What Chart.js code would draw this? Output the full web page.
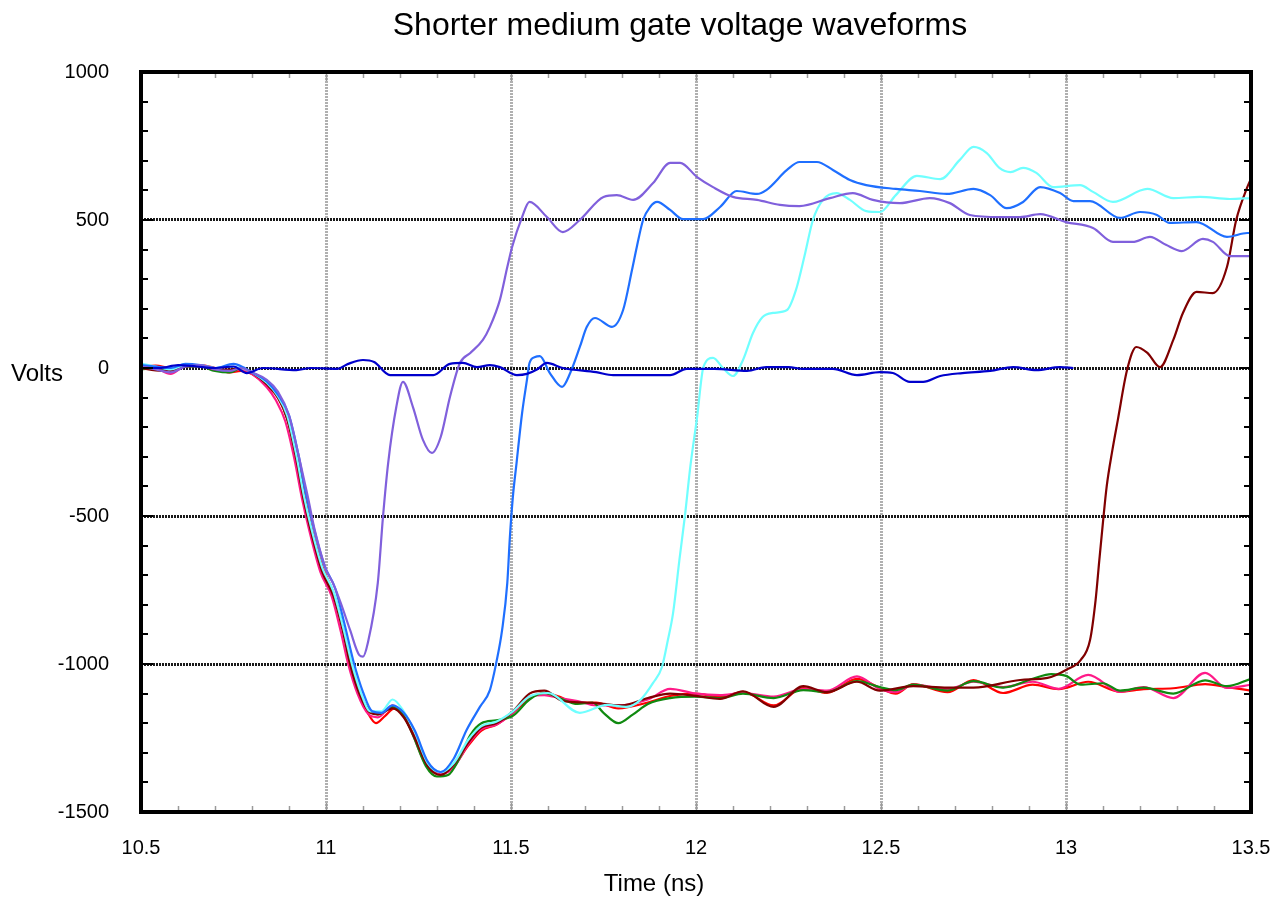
<!DOCTYPE html>
<html><head><meta charset="utf-8">
<script src="https://cdn.jsdelivr.net/npm/chart.js@4.4.0/dist/chart.umd.min.js"></script>
<style>html,body{margin:0;padding:0;background:#fff}#wrap{width:1279px;height:900px;position:relative}</style>
</head><body><div id="wrap"><canvas id="c"></canvas></div>
<script>
const chartTitle = 'Shorter medium gate voltage waveforms';
const xTitle = 'Time (ns)';
const yTitle = 'Volts';
const xTicks = [10.5, 11, 11.5, 12, 12.5, 13, 13.5];
const xTickLabels = ['10.5', '11', '11.5', '12', '12.5', '13', '13.5'];
const yTicks = [-1500, -1000, -500, 0, 500, 1000];
const yTickLabels = ['-1500', '-1000', '-500', '0', '500', '1000'];

// [time (ns), volts]
const darkBlue = [[10.5,0],[10.55,0],[10.6,10],[10.65,5],[10.7,0],[10.75,5],[10.786,-17],[10.83,0],[10.92,-7],[10.96,0],[11.03,-3],[11.06,14],[11.1,27],[11.13,20],[11.173,-24],[11.22,-24],[11.29,-24],[11.335,14],[11.37,17],[11.408,3],[11.443,10],[11.47,3],[11.516,-24],[11.543,-20],[11.57,-5],[11.597,17],[11.64,0],[11.73,-14],[11.776,-24],[11.868,-24],[11.93,-24],[11.975,-3],[12.05,-3],[12.138,-10],[12.19,3],[12.25,3],[12.29,-3],[12.37,-3],[12.435,-24],[12.497,-14],[12.532,-17],[12.578,-47],[12.614,-47],[12.66,-27],[12.72,-17],[12.795,-10],[12.857,3],[12.92,-7],[12.984,3],[13.02,0]];

const purple = [[10.5,5],[10.54,-5],[10.58,-15],[10.62,5],[10.66,10],[10.7,-5],[10.74,-10],[10.77,0],[10.8,-15],[10.84,-40],[10.87,-80],[10.9,-160],[10.925,-290],[10.95,-430],[10.97,-550],[11.0,-680],[11.02,-730],[11.04,-794],[11.065,-885],[11.09,-970],[11.1,-975],[11.113,-929],[11.14,-726],[11.154,-503],[11.168,-321],[11.19,-132],[11.208,-47],[11.235,-132],[11.262,-243],[11.286,-287],[11.31,-233],[11.335,-98],[11.362,17],[11.39,51],[11.424,95],[11.443,139],[11.47,230],[11.49,341],[11.503,409],[11.53,510],[11.55,561],[11.597,510],[11.64,459],[11.686,500],[11.75,578],[11.786,584],[11.83,568],[11.884,625],[11.93,693],[11.957,693],[12.003,645],[12.046,611],[12.1,578],[12.165,568],[12.227,551],[12.28,547],[12.362,574],[12.424,591],[12.478,568],[12.551,557],[12.632,574],[12.686,557],[12.74,517],[12.82,510],[12.876,510],[12.93,520],[13.0,493],[13.073,473],[13.127,426],[13.18,426],[13.227,443],[13.27,416],[13.313,395],[13.37,436],[13.397,426],[13.443,378],[13.5,378]];

const blue = [[10.5,10],[10.54,5],[10.58,0],[10.62,14],[10.66,10],[10.7,0],[10.75,14],[10.78,0],[10.8,-15],[10.84,-45],[10.87,-90],[10.9,-160],[10.925,-290],[10.945,-420],[10.965,-530],[10.995,-665],[11.025,-745],[11.05,-865],[11.075,-995],[11.1,-1095],[11.125,-1160],[11.15,-1165],[11.18,-1140],[11.21,-1165],[11.24,-1225],[11.275,-1330],[11.31,-1365],[11.345,-1320],[11.38,-1223],[11.416,-1145],[11.443,-1088],[11.46,-997],[11.476,-885],[11.49,-726],[11.497,-571],[11.505,-436],[11.515,-321],[11.53,-152],[11.543,-41],[11.55,17],[11.565,37],[11.578,40],[11.605,-17],[11.638,-64],[11.66,-17],[11.686,71],[11.705,139],[11.727,169],[11.773,139],[11.803,196],[11.827,331],[11.84,409],[11.857,500],[11.876,544],[11.895,561],[11.93,534],[11.965,503],[12.019,503],[12.065,544],[12.11,598],[12.165,588],[12.19,601],[12.246,669],[12.28,696],[12.327,696],[12.37,669],[12.416,635],[12.46,618],[12.54,605],[12.605,598],[12.678,588],[12.75,605],[12.795,584],[12.84,540],[12.884,561],[12.93,611],[12.984,591],[13.02,564],[13.065,564],[13.146,507],[13.2,527],[13.246,517],[13.28,490],[13.353,493],[13.435,443],[13.49,456],[13.5,456]];

const cyan = [[10.5,15],[10.54,5],[10.58,-5],[10.62,10],[10.66,10],[10.7,0],[10.74,5],[10.77,0],[10.8,-15],[10.84,-50],[10.87,-95],[10.895,-160],[10.92,-295],[10.94,-430],[10.96,-540],[10.99,-675],[11.02,-755],[11.046,-875],[11.07,-1000],[11.095,-1100],[11.12,-1160],[11.15,-1160],[11.18,-1120],[11.21,-1160],[11.24,-1230],[11.275,-1335],[11.31,-1365],[11.345,-1335],[11.385,-1255],[11.42,-1210],[11.46,-1195],[11.505,-1160],[11.55,-1110],[11.6,-1098],[11.686,-1165],[11.76,-1138],[11.81,-1145],[11.85,-1121],[11.884,-1064],[11.908,-1010],[11.924,-919],[11.938,-828],[11.955,-650],[11.97,-500],[11.985,-330],[12.003,-166],[12.02,3],[12.046,34],[12.073,0],[12.1,-27],[12.127,27],[12.154,118],[12.18,172],[12.208,186],[12.246,196],[12.27,263],[12.295,388],[12.316,500],[12.343,568],[12.38,591],[12.416,568],[12.46,530],[12.497,527],[12.54,584],[12.597,649],[12.66,638],[12.713,703],[12.75,747],[12.786,726],[12.82,676],[12.85,662],[12.884,676],[12.92,659],[12.965,611],[13.038,618],[13.073,595],[13.127,561],[13.22,605],[13.29,574],[13.362,578],[13.443,571],[13.5,574]];

const maroon = [[10.5,0],[10.54,-8],[10.58,-10],[10.62,10],[10.66,8],[10.7,-5],[10.74,-5],[10.77,0],[10.8,-15],[10.84,-55],[10.87,-100],[10.895,-170],[10.92,-310],[10.94,-445],[10.96,-555],[10.99,-690],[11.02,-770],[11.046,-890],[11.065,-1000],[11.09,-1100],[11.12,-1165],[11.14,-1170],[11.18,-1150],[11.21,-1180],[11.24,-1250],[11.275,-1345],[11.31,-1375],[11.345,-1340],[11.385,-1265],[11.42,-1215],[11.46,-1200],[11.505,-1160],[11.55,-1100],[11.59,-1090],[11.64,-1125],[11.7,-1130],[11.75,-1135],[11.8,-1140],[11.87,-1115],[11.93,-1100],[12.0,-1108],[12.065,-1118],[12.127,-1092],[12.21,-1145],[12.29,-1075],[12.354,-1095],[12.435,-1060],[12.497,-1090],[12.587,-1075],[12.68,-1080],[12.75,-1080],[12.876,-1054],[12.95,-1047],[13.0,-1020],[13.04,-986],[13.065,-919],[13.08,-784],[13.09,-650],[13.1,-520],[13.11,-400],[13.125,-280],[13.14,-176],[13.165,-7],[13.19,71],[13.22,51],[13.254,3],[13.29,95],[13.316,186],[13.353,257],[13.397,253],[13.435,341],[13.46,500],[13.49,611],[13.5,640]];

const green = [[10.5,-5],[10.54,0],[10.58,-5],[10.62,5],[10.66,5],[10.7,-10],[10.74,-15],[10.77,0],[10.8,-15],[10.84,-50],[10.87,-95],[10.895,-170],[10.92,-300],[10.94,-440],[10.96,-550],[10.99,-680],[11.02,-760],[11.046,-880],[11.065,-995],[11.09,-1095],[11.12,-1160],[11.14,-1170],[11.18,-1145],[11.21,-1175],[11.235,-1240],[11.27,-1345],[11.3,-1380],[11.33,-1375],[11.36,-1320],[11.39,-1240],[11.42,-1200],[11.46,-1190],[11.505,-1175],[11.55,-1120],[11.59,-1098],[11.63,-1115],[11.68,-1135],[11.72,-1130],[11.75,-1165],[11.79,-1200],[11.83,-1170],[11.87,-1135],[11.93,-1115],[12.0,-1110],[12.065,-1115],[12.127,-1100],[12.21,-1115],[12.29,-1088],[12.354,-1095],[12.435,-1058],[12.497,-1078],[12.54,-1088],[12.587,-1070],[12.68,-1090],[12.75,-1058],[12.83,-1080],[12.91,-1050],[12.96,-1034],[13.0,-1040],[13.04,-1070],[13.1,-1065],[13.146,-1090],[13.21,-1080],[13.29,-1100],[13.376,-1055],[13.435,-1075],[13.5,-1050]];

const pink = [[10.5,5],[10.54,0],[10.58,-20],[10.62,5],[10.66,5],[10.7,0],[10.74,-10],[10.77,-5],[10.8,-20],[10.84,-65],[10.865,-110],[10.89,-180],[10.915,-310],[10.935,-440],[10.955,-550],[10.985,-690],[11.015,-770],[11.04,-890],[11.06,-1000],[11.085,-1100],[11.115,-1170],[11.14,-1180],[11.18,-1140],[11.21,-1175],[11.235,-1240],[11.27,-1340],[11.31,-1372],[11.345,-1350],[11.385,-1270],[11.42,-1220],[11.46,-1205],[11.505,-1165],[11.55,-1110],[11.59,-1105],[11.63,-1115],[11.68,-1125],[11.73,-1140],[11.79,-1140],[11.87,-1120],[11.93,-1084],[12.0,-1100],[12.065,-1105],[12.127,-1098],[12.21,-1110],[12.29,-1085],[12.354,-1090],[12.435,-1042],[12.497,-1085],[12.54,-1095],[12.587,-1070],[12.68,-1085],[12.75,-1060],[12.83,-1078],[12.91,-1060],[12.98,-1084],[13.06,-1037],[13.146,-1094],[13.21,-1078],[13.29,-1115],[13.376,-1030],[13.435,-1081],[13.5,-1070]];

const red = [[10.5,5],[10.54,8],[10.58,0],[10.62,5],[10.66,10],[10.7,0],[10.74,-15],[10.77,-10],[10.8,-20],[10.84,-60],[10.87,-100],[10.9,-190],[10.925,-320],[10.945,-450],[10.965,-560],[10.99,-670],[11.02,-760],[11.046,-885],[11.07,-1010],[11.095,-1110],[11.115,-1170],[11.135,-1200],[11.16,-1175],[11.185,-1150],[11.21,-1175],[11.24,-1245],[11.275,-1340],[11.31,-1372],[11.345,-1345],[11.385,-1275],[11.42,-1225],[11.46,-1205],[11.505,-1165],[11.55,-1115],[11.59,-1098],[11.63,-1110],[11.67,-1130],[11.73,-1130],[11.79,-1150],[11.87,-1130],[11.93,-1108],[12.0,-1100],[12.065,-1112],[12.127,-1094],[12.21,-1140],[12.29,-1081],[12.354,-1098],[12.435,-1050],[12.497,-1081],[12.54,-1100],[12.587,-1068],[12.68,-1095],[12.75,-1054],[12.83,-1098],[12.91,-1070],[12.98,-1085],[13.06,-1060],[13.146,-1094],[13.21,-1085],[13.29,-1082],[13.376,-1068],[13.435,-1078],[13.5,-1090]];

const seriesData = [darkBlue, purple, blue, cyan, maroon, green, pink, red];
const seriesNames = ['darkBlue', 'purple', 'blue', 'cyan', 'maroon', 'green', 'pink', 'red'];
const seriesColors = ['#0000cc', '#8060dc', '#1f6fff', '#70ffff', '#800000', '#108a10', '#ff1a88', '#ff0000'];

const FONT = '"Liberation Sans", Arial, Helvetica, sans-serif';

const decor = {
  id: 'decor',
  afterDraw(chart) {
    const { ctx, chartArea: a, scales: { x, y } } = chart;
    ctx.save();
    ctx.strokeStyle = '#000';
    ctx.lineWidth = 2;
    for (let i = 0; i <= 25; i++) {
      const v = -1500 + i * 100;
      const py = Math.round(y.getPixelForValue(v));
      const len = (i % 5 === 0) ? 12 : 7;
      ctx.beginPath();
      ctx.moveTo(a.left, py); ctx.lineTo(a.left + len, py);
      ctx.moveTo(a.right, py); ctx.lineTo(a.right - len, py);
      ctx.stroke();
    }
    ctx.strokeStyle = '#9a9a9a';
    ctx.lineWidth = 1.5;
    for (let i = 0; i <= 30; i++) {
      const v = 10.5 + i * 0.1;
      const px = Math.round(x.getPixelForValue(v)) + 0.5;
      const len = (i % 5 === 0) ? 9 : 6;
      ctx.beginPath();
      ctx.moveTo(px, a.bottom); ctx.lineTo(px, a.bottom - len);
      ctx.moveTo(px, a.top); ctx.lineTo(px, a.top + len);
      ctx.stroke();
    }
    ctx.strokeStyle = '#000';
    ctx.lineWidth = 4;
    ctx.strokeRect(a.left, a.top, a.right - a.left, a.bottom - a.top);
    ctx.fillStyle = '#000';
    ctx.textBaseline = 'middle';
    ctx.textAlign = 'center';
    ctx.font = '32px ' + FONT;
    ctx.fillText(chartTitle, 680, 26);
    ctx.font = '24px ' + FONT;
    ctx.fillText(xTitle, 654, 884);
    ctx.textAlign = 'left';
    ctx.fillText(yTitle, 11, 374);
    ctx.restore();
  }
};

new Chart(document.getElementById('c'), {
  type: 'line',
  data: {
    datasets: seriesData.map((d, i) => ({
      label: seriesNames[i],
      data: d.map(([t, v]) => ({ x: t, y: v })),
      borderColor: seriesColors[i],
      backgroundColor: seriesColors[i],
      borderWidth: 2.2,
      pointRadius: 0,
      fill: false,
      cubicInterpolationMode: 'monotone'
    }))
  },
  options: {
    responsive: true,
    maintainAspectRatio: false,
    animation: false,
    layout: { padding: { top: 72, right: 28, left: 0, bottom: 0 } },
    plugins: { legend: { display: false }, tooltip: { enabled: false }, title: { display: false } },
    scales: {
      x: {
        type: 'linear', min: 10.5, max: 13.5,
        afterBuildTicks: s => { s.ticks = xTicks.map(v => ({ value: v })); },
        afterFit: s => { s.height = 88; s.paddingLeft = 0; s.paddingRight = 0; },
        ticks: {
          callback: v => { const k = xTicks.indexOf(v); return k >= 0 ? xTickLabels[k] : ''; },
          font: { family: FONT, size: 20 }, color: '#000', padding: 24, maxRotation: 0, autoSkip: false
        },
        grid: {
          drawTicks: false, lineWidth: 3,
          color: c => (c.tick && (c.tick.value === 10.5 || c.tick.value === 13.5)) ? 'rgba(0,0,0,0)' : '#b0b0b0'
        },
        border: { display: false, dash: [2, 1] }
      },
      y: {
        type: 'linear', min: -1500, max: 1000,
        afterBuildTicks: s => { s.ticks = yTicks.map(v => ({ value: v })); },
        afterFit: s => { s.width = 141; s.paddingTop = 0; s.paddingBottom = 0; },
        ticks: {
          callback: v => { const k = yTicks.indexOf(v); return k >= 0 ? yTickLabels[k] : ''; },
          font: { family: FONT, size: 20 }, color: '#000', padding: 32, autoSkip: false
        },
        grid: {
          drawTicks: false, lineWidth: 3,
          color: c => (c.tick && (c.tick.value === -1500 || c.tick.value === 1000)) ? 'rgba(0,0,0,0)' : '#1a1a1a'
        },
        border: { display: false, dash: [2, 1] }
      }
    }
  },
  plugins: [decor]
});
</script>
</body></html>
